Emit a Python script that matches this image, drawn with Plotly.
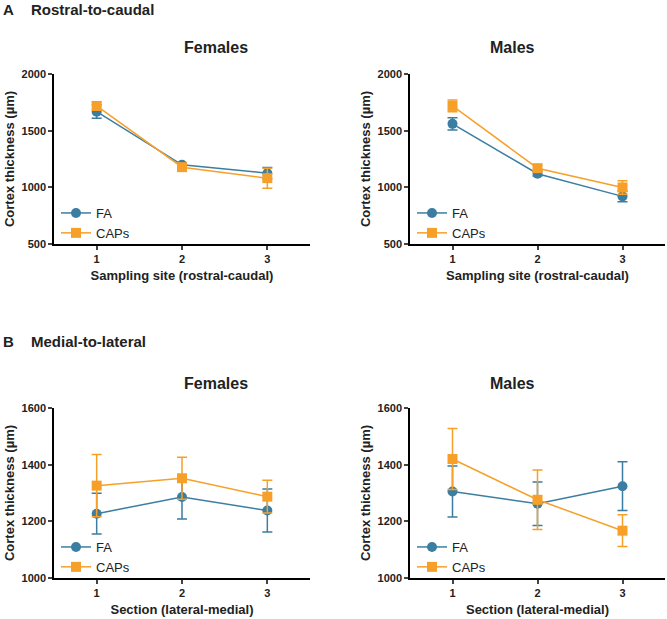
import plotly.graph_objects as go

# x positions (sampling site / section)
sites = [1, 2, 3]

# A: rostral-to-caudal, mean and SEM
a_fem_fa = [1668, 1199, 1125]
a_fem_fa_err = [58, 15, 50]
a_fem_caps = [1718, 1178, 1081]
a_fem_caps_err = [38, 18, 88]

a_mal_fa = [1560, 1120, 920]
a_mal_fa_err = [55, 20, 47]
a_mal_caps = [1718, 1169, 999]
a_mal_caps_err = [52, 25, 59]

# B: medial-to-lateral
b_fem_fa = [1227, 1286, 1238]
b_fem_fa_err = [72, 78, 76]
b_fem_caps = [1326, 1352, 1287]
b_fem_caps_err = [110, 74, 58]

b_mal_fa = [1305, 1262, 1324]
b_mal_fa_err = [90, 77, 86]
b_mal_caps = [1420, 1276, 1167]
b_mal_caps_err = [108, 105, 56]

BLUE = "#3b7ea1"
ORANGE = "#f6a02a"
FONT = "Liberation Sans, Arial, sans-serif"
W, H = 667, 619


def px_x(p):
    return p / W


def px_y(p):
    return 1 - p / H


fig = go.Figure()

panels = [
    # (fa, fa_err, caps, caps_err, xaxis, yaxis, legend)
    (a_fem_fa, a_fem_fa_err, a_fem_caps, a_fem_caps_err, "x", "y", "legend"),
    (a_mal_fa, a_mal_fa_err, a_mal_caps, a_mal_caps_err, "x2", "y2", "legend2"),
    (b_fem_fa, b_fem_fa_err, b_fem_caps, b_fem_caps_err, "x3", "y3", "legend3"),
    (b_mal_fa, b_mal_fa_err, b_mal_caps, b_mal_caps_err, "x4", "y4", "legend4"),
]

for fa, fa_err, caps, caps_err, xa, ya, lg in panels:
    fig.add_trace(go.Scatter(x=sites, y=fa, name="FA", mode="lines+markers", xaxis=xa, yaxis=ya, legend=lg,
                             line=dict(color=BLUE, width=1.5),
                             marker=dict(symbol="circle", size=10, color=BLUE),
                             error_y=dict(type="data", array=fa_err, color=BLUE, thickness=1.5, width=5)))
    fig.add_trace(go.Scatter(x=sites, y=caps, name="CAPs", mode="lines+markers", xaxis=xa, yaxis=ya, legend=lg,
                             line=dict(color=ORANGE, width=1.5),
                             marker=dict(symbol="square", size=10, color=ORANGE),
                             error_y=dict(type="data", array=caps_err, color=ORANGE, thickness=1.5, width=5)))

tickfont = dict(family=FONT, size=11, color="#222", weight="bold")
titlefont = dict(family=FONT, size=13, color="#222", weight="bold")

xdoms = [[px_x(54), px_x(310)], [px_x(410), px_x(665)]]
ydoms = [[px_y(244), px_y(74)], [px_y(578), px_y(408)]]

layout_axes = {}
for i in range(4):
    row, col = divmod(i, 2)
    sx = "" if i == 0 else str(i + 1)
    xtitle = "Sampling site (rostral-caudal)" if row == 0 else "Section (lateral-medial)"
    yrange = [500, 2000] if row == 0 else [1000, 1600]
    ydtick = 500 if row == 0 else 200
    layout_axes["xaxis" + sx] = dict(domain=xdoms[col], anchor="y" + sx, range=[0.5, 3.5],
                                     tickvals=sites, ticks="outside", ticklen=4, tickwidth=1.5,
                                     showline=True, linecolor="black", linewidth=1.5, showgrid=False,
                                     zeroline=False, tickfont=tickfont, automargin=False,
                                     title=dict(text=xtitle, font=titlefont, standoff=7))
    layout_axes["yaxis" + sx] = dict(domain=ydoms[row], anchor="x" + sx, range=yrange, dtick=ydtick,
                                     ticks="outside", ticklen=4, tickwidth=1.5,
                                     showline=True, linecolor="black", linewidth=1.5, showgrid=False,
                                     zeroline=False, tickfont=tickfont, automargin=False,
                                     title=dict(text="Cortex thickness (µm)", font=titlefont, standoff=4))

legend_style = dict(font=dict(family=FONT, size=13, color="#222"), bgcolor="rgba(0,0,0,0)",
                    xanchor="left", yanchor="top", tracegroupgap=0, itemwidth=30)

annotations = []
for text, x, y in [("Females", 182, 48), ("Males", 537, 48), ("Females", 182, 383), ("Males", 537, 383)]:
    annotations.append(dict(text=text, x=px_x(x), y=px_y(y), xref="paper", yref="paper", showarrow=False,
                            yanchor="middle",
                            font=dict(family=FONT, size=16, color="#222", weight="bold")))
for text, y in [("A", 9), ("B", 341)]:
    annotations.append(dict(text=text, x=px_x(1), y=px_y(y), xref="paper", yref="paper", showarrow=False,
                            xanchor="left", yanchor="middle",
                            font=dict(family=FONT, size=15, color="#222", weight="bold")))
for text, y in [("Rostral-to-caudal", 9), ("Medial-to-lateral", 341)]:
    annotations.append(dict(text=text, x=px_x(29), y=px_y(y), xref="paper", yref="paper", showarrow=False,
                            xanchor="left", yanchor="middle",
                            font=dict(family=FONT, size=15, color="#222", weight="bold")))

fig.update_layout(
    width=W, height=H, margin=dict(l=0, r=0, t=0, b=0, autoexpand=False),
    plot_bgcolor="white", paper_bgcolor="white",
    annotations=annotations,
    legend=dict(x=px_x(56), y=px_y(198), **legend_style),
    legend2=dict(x=px_x(412), y=px_y(198), **legend_style),
    legend3=dict(x=px_x(56), y=px_y(532), **legend_style),
    legend4=dict(x=px_x(412), y=px_y(532), **legend_style),
    **layout_axes
)

# drop the browser's default body margin so the figure sits at the page corner
fig.write_html("out.html", config={"displayModeBar": False},
               post_script="document.body.style.margin = '0px';")
